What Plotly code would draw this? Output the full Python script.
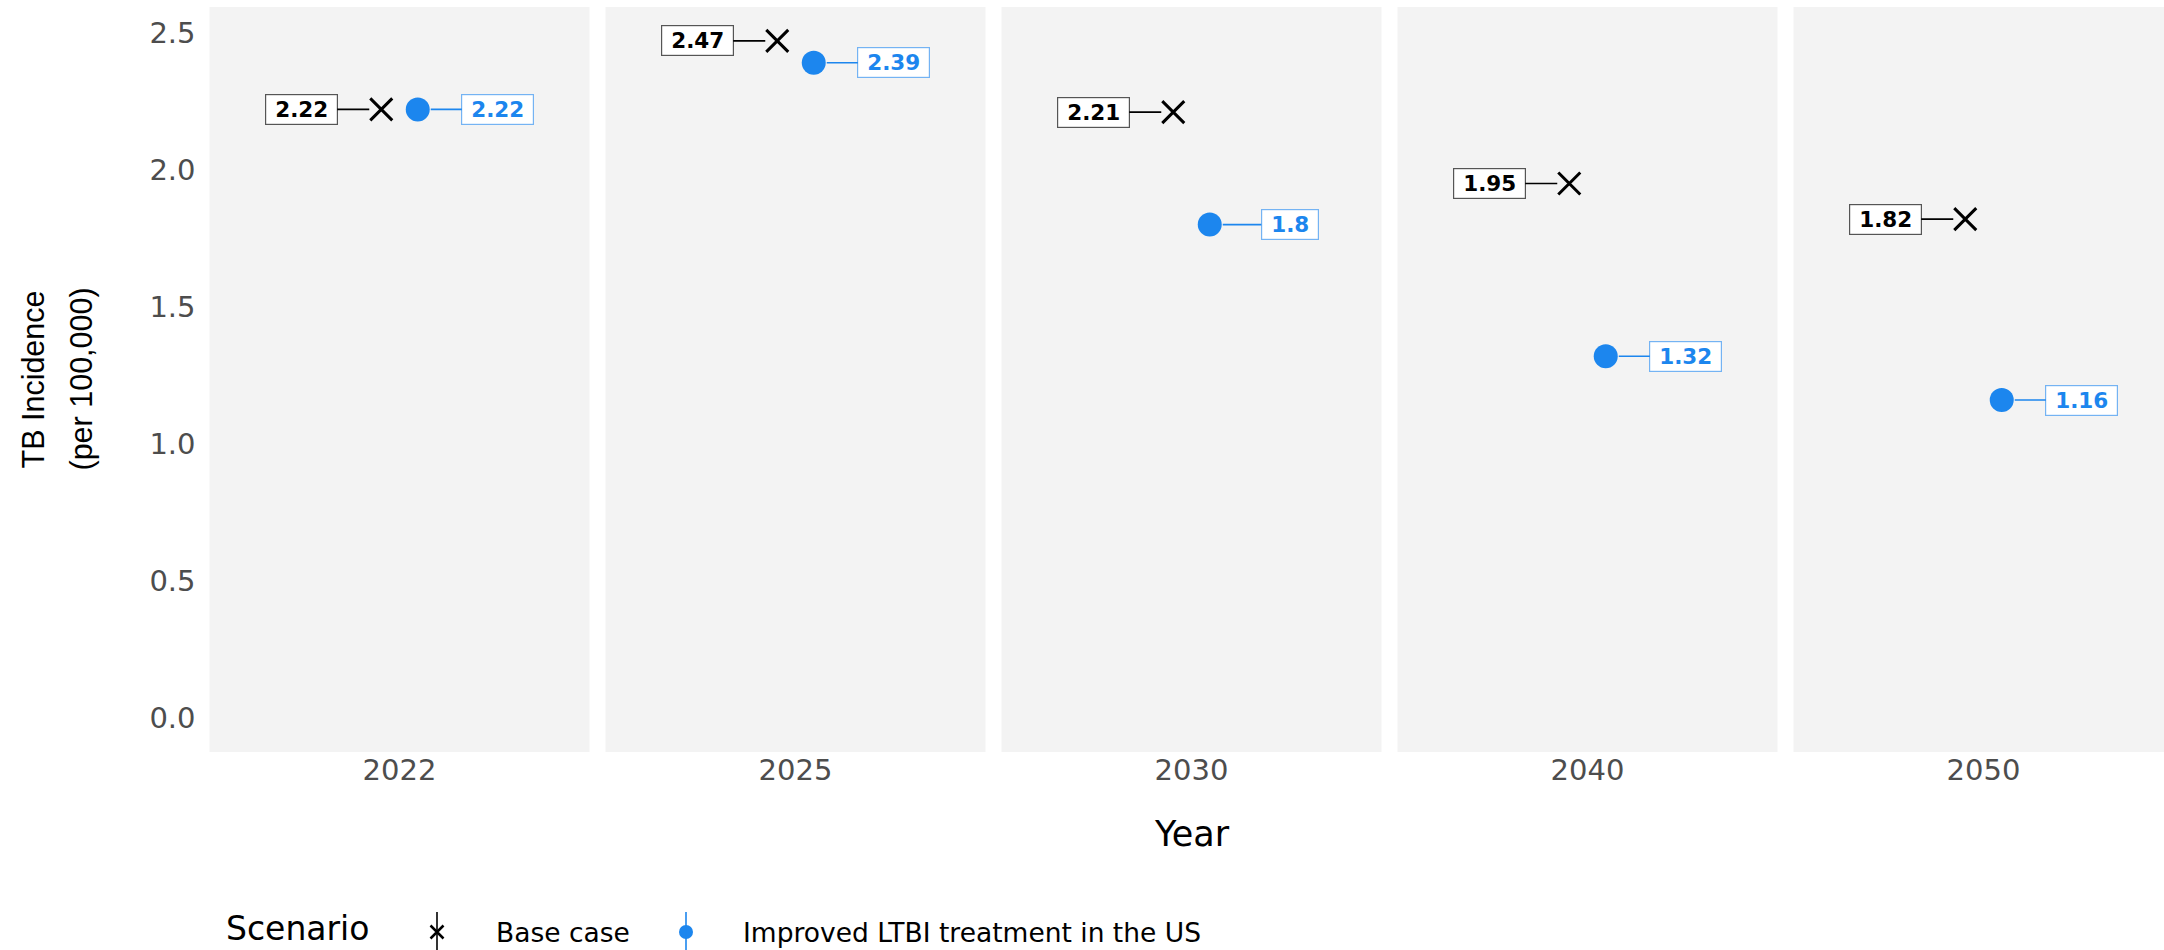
import plotly.graph_objects as go

# ---------------- data ----------------
years = ["2022", "2025", "2030", "2040", "2050"]
base_case = [2.22, 2.47, 2.21, 1.95, 1.82]
improved = [2.22, 2.39, 1.80, 1.32, 1.16]
y_ticks = [0.0, 0.5, 1.0, 1.5, 2.0, 2.5]
y_tick_labels = ["0.0", "0.5", "1.0", "1.5", "2.0", "2.5"]
scenario_names = ["Base case", "Improved LTBI treatment in the US"]
y_title_lines = ["TB Incidence", "(per 100,000)"]

# ---------------- style ----------------
W, H = 2164, 950
BLACK = "#000000"
BLUE = "#1C86EE"
BLUE_BORDER = "#74B3F3"
PANEL_BG = "#F3F3F3"
TICK_GREY = "#4D4D4D"
FONT = "DejaVu Sans"

PANEL_LEFT0, PANEL_STEP, PANEL_W = 209.5, 396.0, 380.0
PANEL_TOP, PANEL_BOTTOM = 7.0, 752.0
X_HALF = 0.6            # discrete axis expansion
DODGE = 0.0576          # dodge offset of the two scenarios
NUDGE = 0.2526          # label nudge
Y_RANGE = [-0.1235, 2.5935]
LABEL_FS = 21.5


def label_width(s, fs):
    return sum(0.696 if ch.isdigit() else 0.38 for ch in s) * fs + 14


fig = go.Figure()
layout = dict(
    width=W, height=H,
    margin=dict(l=0, r=0, t=0, b=0),
    paper_bgcolor="white",
    plot_bgcolor="rgba(0,0,0,0)",
    showlegend=False,
    shapes=[], annotations=[],
)

ydom = [1 - PANEL_BOTTOM / H, 1 - PANEL_TOP / H]

for i, yr in enumerate(years):
    n = "" if i == 0 else str(i + 1)
    left = PANEL_LEFT0 + PANEL_STEP * i
    right = left + PANEL_W
    xr = [-X_HALF, X_HALF]
    if right > W:
        xr = [-X_HALF, -X_HALF + 2 * X_HALF * (W - left) / PANEL_W]
        right = W
    layout["xaxis" + n] = dict(
        domain=[left / W, right / W], range=xr, anchor="y" + n,
        showgrid=False, zeroline=False, showline=False, ticks="",
        tickvals=[0], ticktext=[yr],
        tickfont=dict(family=FONT, size=29, color=TICK_GREY),
        ticklabelstandoff=-2,
        fixedrange=True,
    )
    layout["yaxis" + n] = dict(
        domain=ydom, range=Y_RANGE, anchor="x" + n,
        showgrid=False, zeroline=False, showline=False, ticks="",
        tickvals=y_ticks, ticktext=y_tick_labels,
        showticklabels=(i == 0),
        tickfont=dict(family=FONT, size=29, color=TICK_GREY),
        ticklabelstandoff=13,
        fixedrange=True,
    )
    layout["shapes"].append(dict(
        type="rect", xref="x" + n + " domain", yref="y" + n + " domain",
        x0=0, x1=1, y0=0, y1=1, fillcolor=PANEL_BG, line=dict(width=0),
        layer="below",
    ))

    xa, ya = "x" + n, "y" + n
    # points
    fig.add_trace(go.Scatter(
        x=[-DODGE], y=[base_case[i]], xaxis=xa, yaxis=ya, mode="markers",
        marker=dict(symbol="x-thin", size=22, line=dict(color=BLACK, width=3)),
        name=scenario_names[0], hoverinfo="skip",
    ))
    fig.add_trace(go.Scatter(
        x=[DODGE], y=[improved[i]], xaxis=xa, yaxis=ya, mode="markers",
        marker=dict(symbol="circle", size=24, color=BLUE),
        name=scenario_names[1], hoverinfo="skip",
    ))
    # labels
    for val, dx, col, bcol, std in [
        (base_case[i], -DODGE, BLACK, "#555555", 12),
        (improved[i], DODGE, BLUE, BLUE_BORDER, 13),
    ]:
        txt = f"{val:g}"
        sign = -1 if dx < 0 else 1
        layout["annotations"].append(dict(
            x=dx, y=val, xref=xa, yref=ya,
            ax=dx + sign * NUDGE, ay=val, axref=xa, ayref=ya,
            text="<b>" + txt + "</b>",
            font=dict(family=FONT, size=LABEL_FS, color=col),
            bgcolor="white", bordercolor=bcol, borderwidth=1.2, borderpad=2,
            width=label_width(txt, LABEL_FS),
            showarrow=True, arrowhead=0, arrowwidth=1.6, arrowcolor=col,
            standoff=std,
        ))

# axis titles
layout["annotations"].append(dict(
    x=(PANEL_LEFT0 + (PANEL_LEFT0 + PANEL_STEP * 4 + PANEL_W)) / 2 / W,
    y=1 - 834 / H, xref="paper", yref="paper", showarrow=False,
    text="Year", font=dict(family=FONT, size=35, color=BLACK),
    xanchor="center", yanchor="middle",
))
for lx, line in zip([32, 81], y_title_lines):
    layout["annotations"].append(dict(
        x=lx / W, y=1 - ((PANEL_TOP + PANEL_BOTTOM) / 2) / H,
        xref="paper", yref="paper", showarrow=False, textangle=-90,
        text=line,
        font=dict(family="Liberation Sans", size=30.5, color=BLACK),
        xanchor="center", yanchor="middle",
    ))

# ---------------- custom legend (overlay axis in pixel units) ----------------
layout["xaxis6"] = dict(domain=[0, 1], range=[0, W], anchor="y6", visible=False,
                        fixedrange=True)
layout["yaxis6"] = dict(domain=[0, 1], range=[H, 0], anchor="x6", visible=False,
                        fixedrange=True)
LEG_Y = 932
leg_keys = [(437, BLACK), (686, BLUE)]
for (kx, kc) in leg_keys:
    layout["shapes"].append(dict(
        type="line", xref="x6", yref="y6", x0=kx, x1=kx, y0=912, y1=952,
        line=dict(color=kc, width=1.6),
    ))
fig.add_trace(go.Scatter(
    x=[leg_keys[0][0]], y=[LEG_Y], xaxis="x6", yaxis="y6", mode="markers",
    marker=dict(symbol="x-thin", size=13, line=dict(color=BLACK, width=2.5)),
    hoverinfo="skip", name=scenario_names[0],
))
fig.add_trace(go.Scatter(
    x=[leg_keys[1][0]], y=[LEG_Y], xaxis="x6", yaxis="y6", mode="markers",
    marker=dict(symbol="circle", size=14, color=BLUE),
    hoverinfo="skip", name=scenario_names[1],
))
# legend title, bottom-anchored so its text box stays inside the page
layout["annotations"].append(dict(
    x=225, y=H - 1, xref="x6", yref="y6", showarrow=False, text="Scenario",
    font=dict(family=FONT, size=33, color=BLACK),
    xanchor="left", yanchor="bottom", borderpad=0,
))
for tx, txt, fs in [(494, scenario_names[0], 26.5),
                    (741, scenario_names[1], 26.5)]:
    layout["annotations"].append(dict(
        x=tx, y=LEG_Y, xref="x6", yref="y6", showarrow=False, text=txt,
        font=dict(family=FONT, size=fs, color=BLACK),
        xanchor="left", yanchor="middle",
    ))

fig.update_layout(**layout)
fig.write_html(
    "out.html",
    config={"displayModeBar": False},
    post_script="document.body.style.margin='0';document.body.style.overflow='hidden';",
)
